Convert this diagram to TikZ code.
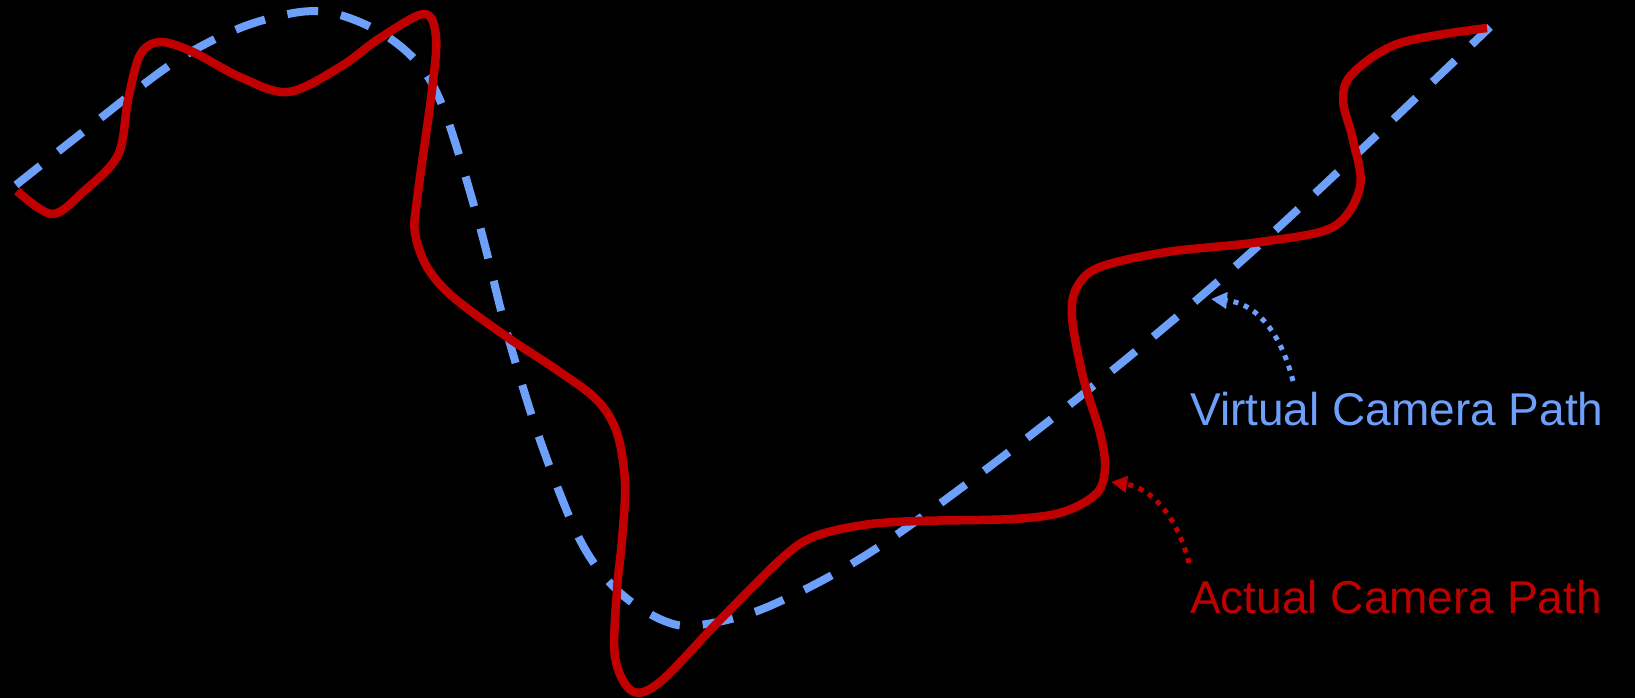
\documentclass[tikz,border=0pt]{standalone}
\usepackage{fontspec}
\setmainfont{Liberation Sans}
\usetikzlibrary{arrows.meta}
\definecolor{camred}{RGB}{192,0,0}
\definecolor{camblue}{RGB}{108,160,250}
\begin{document}
\begin{tikzpicture}[x=1pt,y=-1pt,
  actualpath/.style={draw=camred,line width=8.5pt,line join=round},
  virtualpath/.style={draw=camblue,line width=8pt,dash pattern=on 31pt off 23pt},
  pointer/.style={line width=5pt,dash pattern=on 5pt off 6pt,-{Triangle[length=16pt,width=16pt]}},
  lbl/.style={anchor=base west,inner sep=0pt,font=\fontsize{46pt}{50pt}\selectfont}]
\fill[black] (0,0) rectangle (1635,698);
\useasboundingbox (0,0) rectangle (1635,698);
% virtual (blue dashed) path
\draw[virtualpath] plot[smooth,tension=0.55] coordinates {
  (16,185) (83,132) (173,63) (240,28) (300,12) (340,15) (385,35) (422,68)
  (447,118) (480,227) (507,333) (540,440) (580,540) (617,590) (662,620)
  (700,625) (772,605) (886,542) (1073,402) (1257,247) (1490,27)};
% actual (red) path
\draw[actualpath] plot[smooth,tension=0.55] coordinates {
  (17,191) (52,214) (83,192) (118,155) (128,100) (140,55) (160,42) (193,52)
  (240,77) (288,92) (340,67) (380,38) (424,14) (436,37) (432,90) (417,200)
  (415,233) (427,267) (453,297) (507,337) (557,370) (597,400) (617,433)
  (625,483) (622,540) (617,590) (615,657) (632,691) (660,682) (717,623)
  (780,560) (813,537) (863,525) (917,521) (1013,519) (1063,512) (1097,493)
  (1105,467) (1100,433) (1083,377) (1072,317) (1077,287) (1100,267)
  (1167,252) (1260,242) (1333,227) (1360,187) (1353,140) (1343,100)
  (1353,73) (1400,43) (1487,28)};
% labels
\node[lbl,text=camblue] (vlabel) at (1190,425) {Virtual Camera Path};
\node[lbl,text=camred] (alabel) at (1190,613) {Actual Camera Path};
\coordinate (vstart) at (1293,381);
\coordinate (vtip) at (1211,299);
\coordinate (astart) at (1189,563);
\coordinate (atip) at (1111,482);
\draw[pointer,draw=camblue] (vstart) .. controls (1280,330) and (1255,303) .. (vtip);
\draw[pointer,draw=camred] (astart) .. controls (1178,518) and (1152,488) .. (atip);
\end{tikzpicture}
\end{document}
